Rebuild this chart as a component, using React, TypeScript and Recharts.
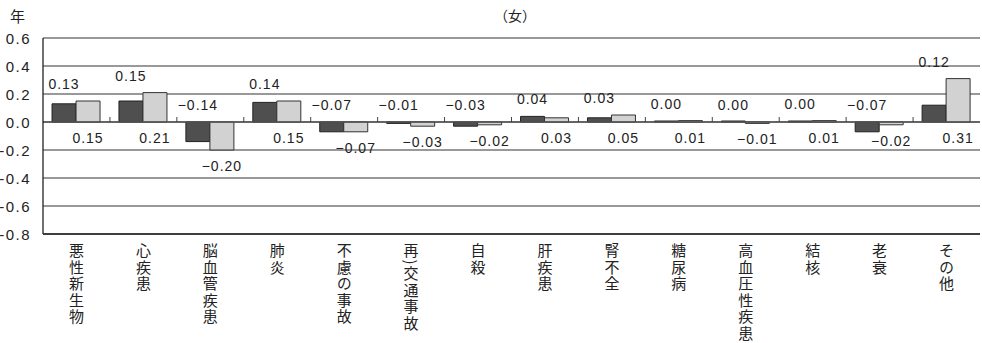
import { BarChart, Bar, XAxis, YAxis, CartesianGrid, LabelList, ReferenceLine } from 'recharts';

const categories = [
  '悪性新生物', '心疾患', '脳血管疾患', '肺炎', '不慮の事故', '再)交通事故', '自殺',
  '肝疾患', '腎不全', '糖尿病', '高血圧性疾患', '結核', '老衰', 'その他'
];
const seriesDark = [0.13, 0.15, -0.14, 0.14, -0.07, -0.01, -0.03, 0.04, 0.03, 0.0, 0.0, 0.0, -0.07, 0.12];
const seriesLight = [0.15, 0.21, -0.2, 0.15, -0.07, -0.03, -0.02, 0.03, 0.05, 0.01, -0.01, 0.01, -0.02, 0.31];
const yTicks = [-0.8, -0.6, -0.4, -0.2, 0, 0.2, 0.4, 0.6];

const W = 982;
const H = 343;
const X_AXIS_H = 109;
const M = { top: 38, right: 2, bottom: 0, left: 0 };
const Y_AXIS_W = 43;
const Y_MIN = -0.8;
const Y_MAX = 0.6;
const PX = (H - M.top - X_AXIS_H) / (Y_MAX - Y_MIN);
const ZERO_Y = M.top + Y_MAX * PX;
const BAND = (W - M.left - M.right - Y_AXIS_W) / categories.length;

const NUM_FONT = '"Liberation Sans", Arial, sans-serif';
const JP_FONT = '"Noto Sans CJK JP", "Noto Sans", sans-serif';

const data = categories.map((name, i) => ({
  name,
  dark: seriesDark[i],
  light: seriesLight[i]
}));

const fmt = (v: number) => (v < 0 ? '\u2212' : '') + Math.abs(v).toFixed(2);
const catIndex = (x: number) =>
  Math.max(0, Math.min(categories.length - 1, Math.floor((x - M.left - Y_AXIS_W) / BAND)));

const DarkLabel = (props: any) => {
  const { x, width } = props;
  const i = catIndex(x + width / 2);
  const v = seriesDark[i];
  const peak = Math.max(seriesDark[i], seriesLight[i], 0);
  return (
    <text
      x={x + width / 2}
      y={ZERO_Y - peak * PX - 17}
      textAnchor="middle"
      dominantBaseline="central"
      fontSize={14}
      fontFamily={NUM_FONT}
      fill="#222"
      style={{ letterSpacing: 1 }}
    >
      {fmt(v)}
    </text>
  );
};

const LightLabel = (props: any) => {
  const { x, width } = props;
  const i = catIndex(x + width / 2);
  const v = seriesLight[i];
  const low = Math.min(v, 0);
  return (
    <text
      x={x + width / 2}
      y={ZERO_Y - low * PX + 16}
      textAnchor="middle"
      dominantBaseline="central"
      fontSize={14}
      fontFamily={NUM_FONT}
      fill="#222"
      style={{ letterSpacing: 1 }}
    >
      {fmt(v)}
    </text>
  );
};

// vertical category label
const CategoryTick = (props: any) => {
  const { x, payload, index } = props;
  return (
    <g>
      {index > 0 && (
        <line x1={x - BAND / 2} x2={x - BAND / 2} y1={ZERO_Y - 5} y2={ZERO_Y} stroke="#444" strokeWidth={1} />
      )}
      <text
        x={x}
        y={243}
        fontSize={15}
        fontFamily={JP_FONT}
        fill="#222"
        style={{ writingMode: 'vertical-rl', letterSpacing: 1.5 }}
      >
        {payload.value}
      </text>
    </g>
  );
};

const ValueTick = (props: any) => {
  const { x, y, payload } = props;
  return (
    <text
      x={x}
      y={y}
      textAnchor="end"
      dominantBaseline="central"
      fontSize={15}
      fontFamily={NUM_FONT}
      fill="#222"
      style={{ letterSpacing: 1.5 }}
    >
      {Number(payload.value).toFixed(1)}
    </text>
  );
};

export default function App() {
  return (
    <div style={{ position: 'absolute', left: 0, top: 0, width: W, height: H, background: '#fff' }}>
      <div style={{ position: 'absolute', left: 10, top: 5, fontSize: 15, fontFamily: JP_FONT, color: '#222' }}>年</div>
      <div style={{ position: 'absolute', left: 494, top: 5, fontSize: 14, fontFamily: JP_FONT, color: '#222' }}>（女）</div>
      <BarChart width={W} height={H} data={data} margin={M} barCategoryGap="13.5%" barGap={0}>
        <CartesianGrid vertical={false} stroke="#777" strokeWidth={1.3} />
        <XAxis
          dataKey="name"
          interval={0}
          tickLine={false}
          axisLine={{ stroke: '#222', strokeWidth: 1.3 }}
          tick={<CategoryTick />}
          height={X_AXIS_H}
        />
        <YAxis
          domain={[Y_MIN, Y_MAX]}
          ticks={yTicks}
          interval={0}
          width={Y_AXIS_W}
          tickLine={false}
          tickMargin={6}
          axisLine={{ stroke: '#222', strokeWidth: 1.3 }}
          tick={<ValueTick />}
        />
        <YAxis
          yAxisId="right"
          orientation="right"
          domain={[Y_MIN, Y_MAX]}
          width={0}
          tick={false}
          tickLine={false}
          axisLine={{ stroke: '#222', strokeWidth: 1.3 }}
        />
        <ReferenceLine y={0} stroke="#555" strokeWidth={1.3} />
        <Bar dataKey="dark" fill="#4f4f4f" stroke="#222" strokeWidth={1} minPointSize={1} isAnimationActive={false}>
          <LabelList dataKey="dark" content={<DarkLabel />} />
        </Bar>
        <Bar dataKey="light" fill="#d2d2d2" stroke="#333" strokeWidth={1} minPointSize={1} isAnimationActive={false}>
          <LabelList dataKey="light" content={<LightLabel />} />
        </Bar>
      </BarChart>
    </div>
  );
}
